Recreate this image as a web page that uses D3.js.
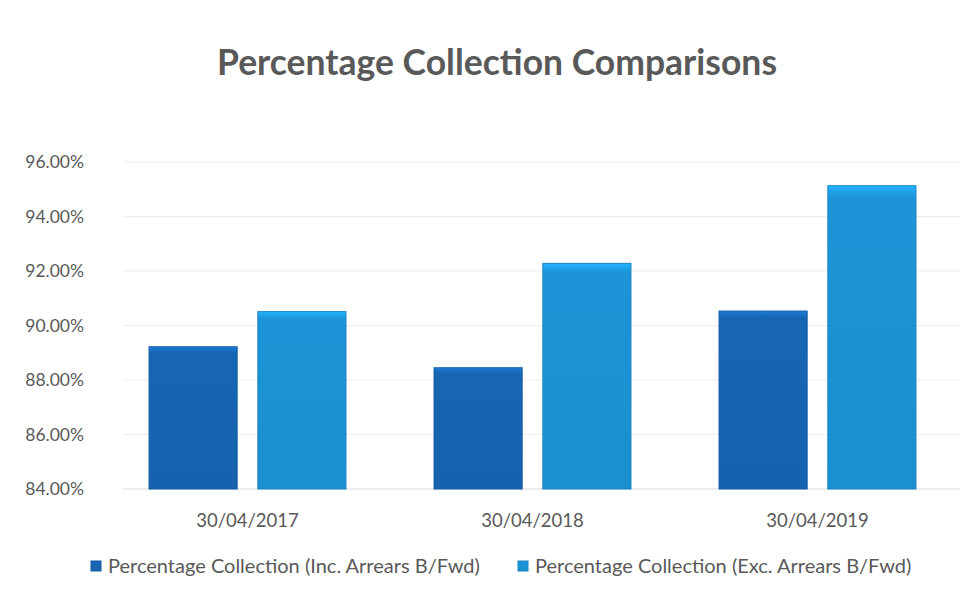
<!DOCTYPE html>
<html>
<head>
<meta charset="utf-8">
<script src="https://cdn.jsdelivr.net/npm/d3@7"></script>
<style>
  body { margin: 0; background: #fff; }
  svg { display: block; }
</style>
</head>
<body>
<div id="chart"></div>
<script>
// ===== data =====
const categories = ['30/04/2017', '30/04/2018', '30/04/2019'];
const seriesNames = ['Percentage Collection (Inc. Arrears B/Fwd)', 'Percentage Collection (Exc. Arrears B/Fwd)'];
const incArrears = [89.22, 88.45, 90.53];
const excArrears = [90.51, 92.28, 95.13];
const yTicks = [84, 86, 88, 90, 92, 94, 96];

const width = 969, height = 590;
const margin = { top: 162, right: 9, bottom: 101, left: 105 };
const font = 'Lato, "Open Sans", sans-serif';
const textColor = '#595959';
const colors = ['#1766b4', '#1c94d7'];

const svg = d3.select('#chart').append('svg')
  .attr('width', width)
  .attr('height', height);

// gradients for the slight bevel look
const defs = svg.append('defs');
colors.forEach((c, i) => {
  const g = defs.append('linearGradient')
    .attr('id', 'grad' + i)
    .attr('x1', 0).attr('y1', 0).attr('x2', 0).attr('y2', 1);
  g.append('stop').attr('offset', '0%').attr('stop-color', d3.color(c).brighter(0.6));
  g.append('stop').attr('offset', '2%').attr('stop-color', d3.color(c).brighter(0.25));
  g.append('stop').attr('offset', '4%').attr('stop-color', c);
  g.append('stop').attr('offset', '100%').attr('stop-color', d3.color(c).darker(0.1));
});

// ===== scales =====
const x0 = d3.scaleBand()
  .domain(categories)
  .range([margin.left, width - margin.right])
  .paddingInner(0.309)
  .paddingOuter(0.1545);

const x1 = d3.scaleBand()
  .domain([0, 1])
  .range([0, x0.bandwidth()])
  .paddingInner(0.19);

const y = d3.scaleLinear()
  .domain([84, 96])
  .range([height - margin.bottom, margin.top]);

// ===== title =====
svg.append('text')
  .attr('x', 497)
  .attr('y', 75)
  .attr('text-anchor', 'middle')
  .attr('font-family', font)
  .attr('font-weight', 'bold')
  .attr('font-size', '35.5px')
  .attr('fill', textColor)
  .text('Percentage Collection Comparisons');

// ===== gridlines =====
svg.append('g')
  .selectAll('line')
  .data(yTicks)
  .enter()
  .append('line')
  .attr('x1', margin.left + 18)
  .attr('x2', width - margin.right)
  .attr('y1', d => y(d))
  .attr('y2', d => y(d))
  .attr('stroke', d => d === 84 ? '#d9d9d9' : '#ededed')
  .attr('stroke-width', 1);

// ===== y axis labels =====
svg.append('g')
  .selectAll('text')
  .data(yTicks)
  .enter()
  .append('text')
  .attr('x', 84)
  .attr('y', d => y(d))
  .attr('dy', '0.35em')
  .attr('text-anchor', 'end')
  .attr('font-family', font)
  .attr('font-size', '17.5px')
  .attr('fill', textColor)
  .text(d => d3.format('.2f')(d) + '%');

// ===== bars =====
const rows = categories.map((c, i) => ({ cat: c, values: [incArrears[i], excArrears[i]] }));

const group = svg.append('g')
  .selectAll('g')
  .data(rows)
  .enter()
  .append('g')
  .attr('transform', d => `translate(${x0(d.cat)},0)`);

group.selectAll('rect')
  .data(d => d.values.map((v, s) => ({ s: s, v: v })))
  .enter()
  .append('rect')
  .attr('x', d => x1(d.s))
  .attr('y', d => y(d.v))
  .attr('width', x1.bandwidth())
  .attr('height', d => y(84) - y(d.v))
  .attr('fill', d => `url(#grad${d.s})`)
  .attr('stroke', d => d3.color(colors[d.s]).darker(0.3))
  .attr('stroke-width', 1);

// ===== x axis labels =====
svg.append('g')
  .selectAll('text')
  .data(categories)
  .enter()
  .append('text')
  .attr('x', d => x0(d) + x0.bandwidth() / 2)
  .attr('y', 527)
  .attr('text-anchor', 'middle')
  .attr('font-family', font)
  .attr('font-size', '18.5px')
  .attr('fill', textColor)
  .text(d => d);

// ===== legend =====
const legendX = [91, 518];
const legend = svg.append('g')
  .selectAll('g')
  .data(seriesNames)
  .enter()
  .append('g')
  .attr('transform', (d, i) => `translate(${legendX[i]},561)`);

legend.append('rect')
  .attr('width', 10)
  .attr('height', 10)
  .attr('fill', (d, i) => `url(#grad${i})`)
  .attr('stroke', (d, i) => d3.color(colors[i]).darker(0.3));

legend.append('text')
  .attr('x', 17)
  .attr('y', 5)
  .attr('dy', '0.35em')
  .attr('font-family', font)
  .attr('font-size', '20px')
  .attr('fill', textColor)
  .text(d => d);
</script>
</body>
</html>
